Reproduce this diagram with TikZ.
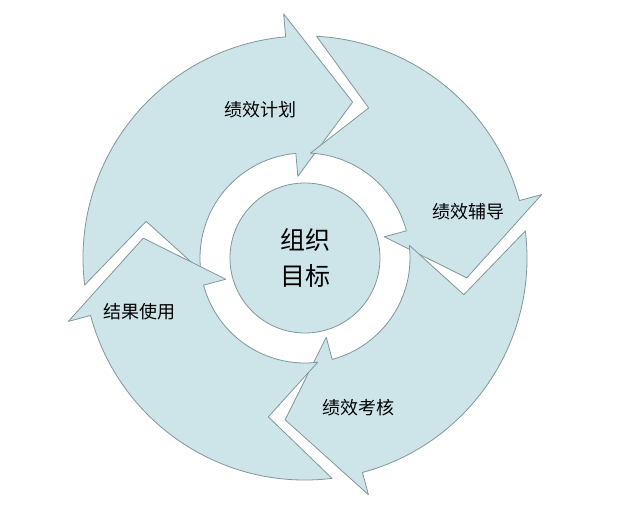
\documentclass[tikz,border=0pt]{standalone}
\usepackage{fontspec}
\newfontfamily\cjk{Noto Sans CJK SC}
\definecolor{ringfill}{RGB}{205,229,232}
\definecolor{ringline}{RGB}{130,150,155}
\begin{document}
\begin{tikzpicture}[x=1pt,y=1pt,font=\cjk]
	\tikzstyle{arrowpart}=[fill=ringfill,draw=ringline,line width=0.8pt,line join=round]
	\tikzstyle{label}=[font=\cjk\fontsize{18}{18}\selectfont,text=black]
	\useasboundingbox (-305,-270) rectangle (313,258);
	% ri=105, ro=222, rm=163; base/tip/prev base/prev tip
	\foreach \b/\p/\pb/\pp in {95/73/195/173, 15/-7/95/73, -75/-97/15/-7, -165/-187/-75/-97}
	{
		\draw[arrowpart] ({\pb-8}:222) arc ({\pb-8}:\b:222) -- (\b:245) -- (\p:163)
			-- (\b:82) -- (\b:105) arc (\b:{\pb-8}:105) -- ({\pp-6}:163) -- cycle;
	}
	\node (goal)[circle,fill=ringfill,draw=ringline,line width=0.8pt,minimum size=150pt,align=center,
		font=\cjk\fontsize{25}{36}\selectfont] at (0,0) {组织\\目标};
	\node (plan)[label] at (-45,148) {绩效计划};
	\node (coach)[label] at (163,46) {绩效辅导};
	\node (review)[label] at (53,-150) {绩效考核};
	\node (use)[label] at (-165,-54) {结果使用};
\end{tikzpicture}
\end{document}
